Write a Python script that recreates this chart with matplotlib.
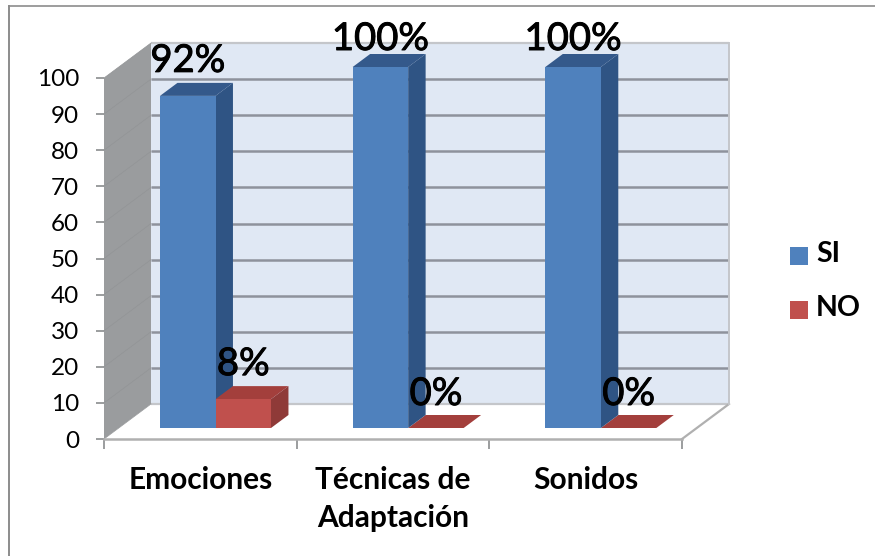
import matplotlib
matplotlib.use("Agg")
import matplotlib.pyplot as plt
import matplotlib.patheffects as pe
from matplotlib.patches import Polygon, Rectangle

categories = ["Emociones", "Técnicas de\nAdaptación", "Sonidos"]
si_values = [92, 100, 100]
no_values = [8, 0, 0]
si_labels = ["92%", "100%", "100%"]
no_labels = ["8%", "0%", "0%"]
y_ticks = list(range(0, 101, 10))

W, H = 875, 556
FONT = "Lato"
fig = plt.figure(figsize=(W / 100, H / 100), dpi=100, facecolor="white")

# Front plane of the 3-D box in pixels
L, R, T, B = 104, 682, 78, 439
ax = fig.add_axes([L / W, 1 - B / H, (R - L) / W, (B - T) / H])
ax.set_xlim(0, 3)
ax.set_ylim(0, 100)
ax.patch.set_visible(False)
for s in ("top", "right", "left"):
    ax.spines[s].set_visible(False)
ax.spines["bottom"].set_color("#b0b0b0")
ax.spines["bottom"].set_linewidth(1.8)

px = 3 / (R - L)      # data units per pixel, x
py = 100 / (B - T)    # data units per pixel, y
DX, DY = 47 * px, 35 * py          # box depth
BF = 11 / 35                       # bar front depth fraction
BD = 13 / 35                       # bar depth fraction
BAR_W = 55.5 * px
BAR_X0 = (160 - L - 47 * BF) * px  # first SI bar left at its front face


def proj(x, y, d):
    return (x + d * DX, y + d * DY)


def poly(pts, color, z):
    ax.add_patch(Polygon(pts, closed=True, facecolor=color, edgecolor="none",
                         linewidth=0, zorder=z, clip_on=False))


# Back wall, side wall, floor
poly([proj(0, 0, 1), proj(3, 0, 1), proj(3, 100, 1), proj(0, 100, 1)], "#e0e8f4", 1)
poly([proj(0, 0, 0), proj(0, 0, 1), proj(0, 100, 1), proj(0, 100, 0)], "#9a9c9e", 1)
poly([proj(0, 0, 0), proj(3, 0, 0), proj(3, 0, 1), proj(0, 0, 1)], "white", 1)

# Gridlines
for v in y_ticks:
    lw, c = (1.8, "#8e929c") if 0 < v < 100 else (1.6, "#c4c6ca")
    ax.plot(*zip(proj(0, v, 1), proj(3, v, 1)), color=c, lw=lw, zorder=2, clip_on=False,
            solid_capstyle="butt")
    ax.plot(*zip(proj(0, v, 0), proj(0, v, 1)), color="#929496", lw=0.5, zorder=2, clip_on=False)
ax.plot(*zip(proj(3, 0, 0), proj(3, 0, 1)), color="#b0b0b0", lw=1.6, zorder=2, clip_on=False)
ax.plot(*zip(proj(3, 0, 1), proj(3, 100, 1)), color="#c4c6ca", lw=1.4, zorder=2, clip_on=False)


def bar3d(x0, h, front, side, top, z):
    x1 = x0 + BAR_W
    d0, d1 = BF, BF + BD
    if h > 0:
        poly([proj(x1, 0, d0), proj(x1, 0, d1), proj(x1, h, d1), proj(x1, h, d0)], side, z)
    poly([proj(x0, h, d0), proj(x1, h, d0), proj(x1, h, d1), proj(x0, h, d1)], top, z)
    if h > 0:
        poly([proj(x0, 0, d0), proj(x1, 0, d0), proj(x1, h, d0), proj(x0, h, d0)], front, z + 0.1)


for i, (si, no) in enumerate(zip(si_values, no_values)):
    x0 = BAR_X0 + i * 1.0
    bar3d(x0 + BAR_W, no, "#c0504d", "#8f3a38", "#a33f3c", 4)
    bar3d(x0, si, "#4f81bd", "#2f5484", "#34598b", 3 if no > 0 else 5)

# Data labels: placed by annotation above each bar's front face
heavier = [pe.withStroke(linewidth=0.7, foreground="black")]
label_kw = dict(fontfamily=FONT, fontsize=27.5, color="black", ha="center", va="baseline",
                zorder=8, annotation_clip=False, textcoords="offset pixels", path_effects=heavier)
si_rise = [24, 17]      # label baseline above bar top, px (short bar, full bars)
no_rise = [24, 23]
for i in range(3):
    x0 = BAR_X0 + i * 1.0
    anchor = proj(x0 + BAR_W / 2, si_values[i], BF)
    ax.annotate(si_labels[i], anchor, xytext=(0, si_rise[0] if si_values[i] < 100 else si_rise[1]), **label_kw)
    anchor = proj(x0 + 1.5 * BAR_W, no_values[i], BF)
    ax.annotate(no_labels[i], anchor, xytext=(0, no_rise[0] if no_values[i] > 0 else no_rise[1]), **label_kw)

# Axes ticks and labels
ax.set_yticks(y_ticks)
ax.set_xticks([0, 1, 2, 3])
ax.set_xticklabels([])
ax.tick_params(axis="y", length=5.8, width=1.2, color="#8a8c8e", pad=12, labelsize=17.5)
ax.tick_params(axis="x", length=7.2, width=1.2, color="#8a8c8e")
for t in ax.get_yticklabels():
    t.set_fontfamily(FONT)
for i, c in enumerate(categories):
    ax.text(i + 0.5, -27 * py, c, fontfamily=FONT, fontweight="bold", fontsize=21.5, ha="center",
            va="top", linespacing=1.44, clip_on=False, color="black")

# Chart border (open to the right and cut at the bottom)
fig.add_artist(plt.Line2D([8.5 / W, 8.5 / W], [1 - 6 / H, 0], color="#8c8c8c", lw=1.4))
fig.add_artist(plt.Line2D([8.5 / W, 1], [1 - 6 / H, 1 - 6 / H], color="#8c8c8c", lw=1.2))

# Legend
for name, color, yc in (("SI", "#4f81bd", 256), ("NO", "#c0504d", 310)):
    fig.add_artist(Rectangle((790 / W, 1 - (yc + 9) / H), 18 / W, 18 / H, transform=fig.transFigure,
                             facecolor=color, edgecolor="none"))
    fig.text(816 / W, 1 - (yc - 2) / H, name, fontfamily=FONT, fontweight="bold", fontsize=20.5,
             va="center", ha="left")

fig.savefig("out.png", dpi=100)
